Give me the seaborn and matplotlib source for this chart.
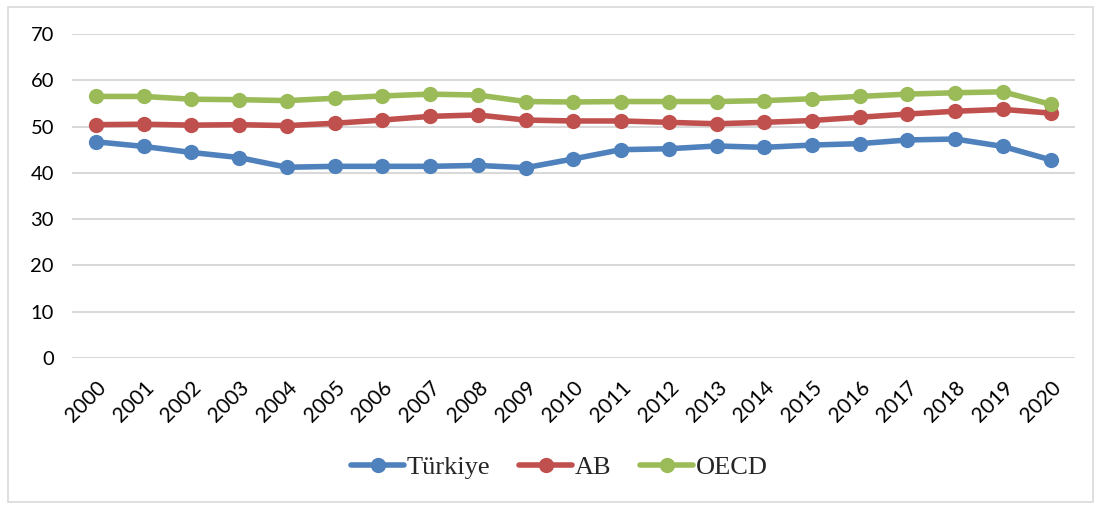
import pandas as pd
import matplotlib.pyplot as plt
import seaborn as sns
from matplotlib.patches import Rectangle

years = [str(y) for y in range(2000, 2021)]
turkiye = [46.7, 45.7, 44.4, 43.3, 41.2, 41.4, 41.4, 41.4, 41.6, 41.1,
           43.0, 45.0, 45.2, 45.8, 45.5, 46.0, 46.3, 47.1, 47.3, 45.7, 42.8]
ab = [50.4, 50.5, 50.3, 50.4, 50.2, 50.7, 51.4, 52.2, 52.5, 51.4,
      51.2, 51.2, 50.9, 50.6, 50.9, 51.3, 52.0, 52.7, 53.3, 53.7, 52.9]
oecd = [56.5, 56.5, 55.9, 55.8, 55.6, 56.1, 56.6, 57.0, 56.8, 55.4,
        55.3, 55.4, 55.4, 55.4, 55.6, 56.0, 56.5, 57.0, 57.3, 57.5, 54.8]
series = ["Türkiye", "AB", "OECD"]
colors = ["#4F81BD", "#C0504D", "#9BBB59"]

df = pd.DataFrame({"pos": list(range(len(years))) * 3,
                   "value": turkiye + ab + oecd,
                   "series": [s for s in series for _ in years]})

sns.set_style("white")
fig = plt.figure(figsize=(11.01, 5.09), dpi=100)
ax = fig.add_axes([0.0654, 0.2967, 0.9106, 0.6366])

sns.lineplot(data=df, x="pos", y="value", hue="series", hue_order=series,
             palette=colors, marker="o", markersize=11, markeredgewidth=0,
             linewidth=4, ax=ax, legend=False)

ax.set_xlim(-0.5, len(years) - 0.5)
ax.set_ylim(0, 70)
ax.set_yticks(range(0, 71, 10))
ax.set_xticks(range(len(years)))
ax.set_xticklabels(years, rotation=45, ha="right", rotation_mode="anchor",
                   fontsize=15, family="Lato")
for t in ax.get_yticklabels():
    t.set_family("Lato")
    t.set_fontsize(14.5)
ax.tick_params(axis="both", length=0, colors="#000000")
ax.tick_params(axis="x", pad=14)
ax.tick_params(axis="y", pad=13)
ax.grid(axis="y", color="#D9D9D9", linewidth=1.5)
ax.set_axisbelow(True)
for s in ax.spines.values():
    s.set_visible(False)
ax.set_xlabel("")
ax.set_ylabel("")

handles = [plt.Line2D([], [], color=c, linewidth=4, marker="o", markersize=11,
                      markeredgewidth=0) for c in colors]
fig.legend(handles, series, loc="center", bbox_to_anchor=(0.508, 0.082),
           ncol=3, frameon=False, handlelength=2.0, columnspacing=1.1,
           handletextpad=0.1, prop={"family": "Liberation Serif", "size": 19})

fig.patches.append(Rectangle((0.007, 0.014), 0.986, 0.972, transform=fig.transFigure,
                             fill=False, edgecolor="#D9D9D9", linewidth=1.2))

fig.savefig("out.png", dpi=100)
